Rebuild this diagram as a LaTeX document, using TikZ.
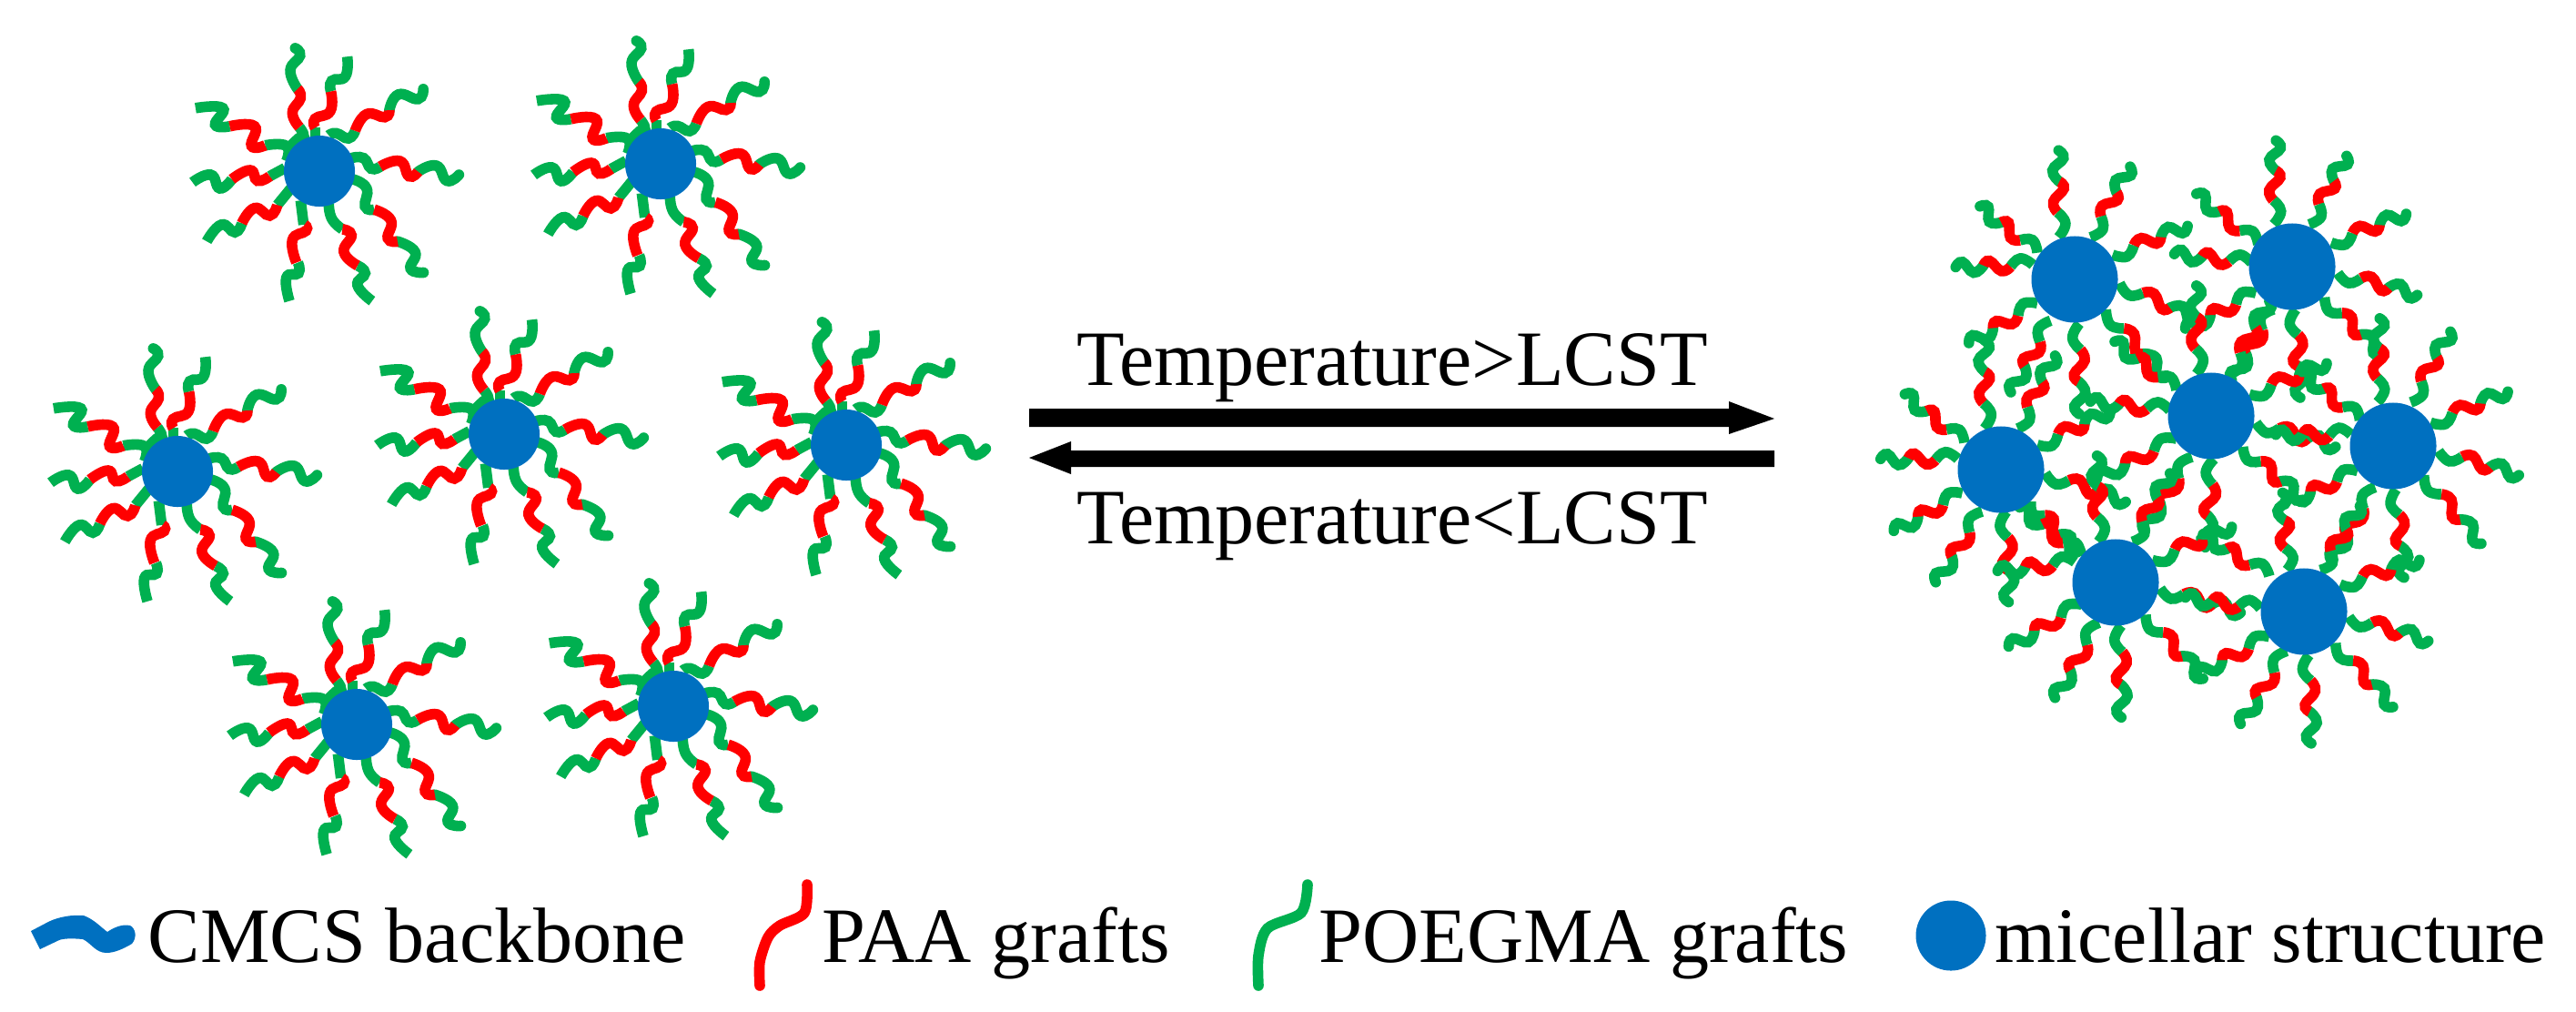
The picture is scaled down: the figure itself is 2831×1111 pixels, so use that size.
\documentclass[tikz,border=0pt]{standalone}
\usepackage{fontspec}
\setmainfont{Liberation Serif}
\usetikzlibrary{calc}
\definecolor{ballblue}{RGB}{0,112,192}
\definecolor{paared}{RGB}{255,0,0}
\definecolor{oegreen}{RGB}{0,176,80}
\tikzset{
  ball/.style={circle,fill=ballblue,inner sep=0pt},
  graftg/.style={draw=oegreen,line width=3.3pt},
  graftr/.style={draw=paared,line width=3.3pt},
  arrowbar/.style={fill=black},
  bigtext/.style={inner sep=0pt,anchor=base,font=\fontsize{24.5}{25}\selectfont},
  legendtext/.style={inner sep=0pt,anchor=base west,font=\fontsize{24.5}{25}\selectfont}
}
% one traced graft of the left micelles: green, red, green
\newcommand{\tikzGraft}[4][butt]{
  \draw[graftg] plot[smooth,tension=0.85] coordinates{#2};
  \draw[graftg,line cap=#1] plot[smooth,tension=0.85] coordinates{#4};
  \draw[graftr] plot[smooth,tension=0.85] coordinates{#3};
}
% a free micelle, centre in pixels; arm points are relative to a centre at (514,503)
\newcommand{\tikzFreeMicelle}[2]{
  \begin{scope}[shift={(#2)},x=0.00333cm,y=-0.00333cm,shift={(-514,-503)}]
  \tikzGraft[round]{(415,425)(445,395)(462,385)(448,358)}{(448,358)(425,310)(452,262)(442,232)}{(442,232)(418,170)(450,122)(434,97)}
  \tikzGraft{(500,395)(500,360)}{(500,360)(500,330)(550,305)(552,240)}{(552,240)(555,205)(600,190)(606,125)}
  \tikzGraft[round]{(545,385)(570,378)(610,395)(632,370)}{(632,370)(670,315)(730,325)(745,302)}{(745,302)(775,250)(840,265)(857,232)}
  \tikzGraft[round]{(620,460)(660,460)(685,495)(715,488)}{(715,488)(780,470)(810,520)(840,505)}{(840,505)(900,485)(935,535)(975,515)}
  \tikzGraft[round]{(625,530)(670,560)(665,620)(695,630)}{(695,630)(750,665)(740,725)(772,735)}{(772,735)(830,770)(815,825)(858,838)}
  \tikzGraft{(545,610)(555,660)(590,695)}{(590,695)(620,715)(595,770)(640,815)}{(640,815)(665,840)(640,880)(688,932)}
  \tikzGraft{(452,600)(462,680)}{(465,680)(470,700)(425,730)(438,805)}{(443,805)(445,840)(405,855)(415,932)}
  \tikzGraft{(420,560)(375,615)}{(375,615)(350,650)(300,625)(258,675)}{(258,675)(235,705)(190,680)(142,735)}
  \tikzGraft{(400,493)(350,520)}{(350,520)(310,535)(285,500)(225,530)}{(225,530)(185,560)(155,515)(95,540)}
  \tikzGraft{(405,470)(405,420)(335,418)}{(335,418)(290,420)(300,355)(218,355)}{(218,355)(170,350)(195,295)(105,295)}
  \end{scope}
  \node[ball,minimum size=0.78cm] (#1) at (#2) {};
}
% a wavy graft of the aggregate from root to tip, in the units of its scope
\newcommand{\tikzWave}[4]{
  \pgfmathsetmacro{\waveang}{atan2(#2-#4,#3-#1)}
  \pgfmathsetmacro{\wavelen}{veclen(#3-#1,#4-#2)/100}
  \begin{scope}[shift={(#1,#2)},rotate=\waveang,xscale=\wavelen]
  \draw[graftg] plot[smooth,tension=0.8] coordinates{(0,0)(16,17)(29,-3)};
  \draw[graftg,line cap=round] plot[smooth,tension=0.8] coordinates{(64,2)(77,-15)(91,12)(100,0)};
  \draw[graftr] plot[smooth,tension=0.8] coordinates{(29,-3)(41,-13)(56,13)(64,2)};
  \end{scope}
}
\begin{document}
\begin{tikzpicture}[x=0.01cm,y=-0.01cm]
  \useasboundingbox (0,0) rectangle (2831,1111);

  \tikzFreeMicelle{fa}{351,188}
  \tikzFreeMicelle{fb}{726,180}
  \tikzFreeMicelle{fc}{195,518}
  \tikzFreeMicelle{fd}{554,477}
  \tikzFreeMicelle{fe}{930,489}
  \tikzFreeMicelle{ff}{392,796}
  \tikzFreeMicelle{fg}{740,776}

  % arrows
  \node[bigtext] (up) at (1530,423) {Temperature>LCST};
  \node[bigtext] (down) at (1530,597) {Temperature<LCST};
  \fill[arrowbar] (1131,449) -- (1900,449) -- (1900,441) -- (1950,460) -- (1900,477) -- (1900,469) -- (1131,469) -- cycle;
  \fill[arrowbar] (1950,495) -- (1177,495) -- (1177,485) -- (1131,503) -- (1177,521) -- (1177,513) -- (1950,513) -- cycle;

  % aggregate, read off in its own units
  \begin{scope}[shift={(2040,140)},x=0.004847cm,y=-0.004444cm]
  \foreach \xa/\ya/\xb/\yb in {
    458/272/458/75, 530/272/620/112, 580/315/750/250, 596/385/775/470, 565/450/700/605,
    505/485/505/690, 440/478/350/640, 410/435/255/525, 400/340/225/345, 410/310/280/205,
    945/240/950/50, 1025/240/1110/85, 1075/285/1245/220, 1090/360/1270/410, 1060/420/1190/550,
    995/450/1005/650, 945/450/850/610, 905/410/745/490, 895/335/720/315, 910/290/770/175,
    770/610/770/410, 845/610/935/445, 890/660/1065/590, 905/730/1085/785, 875/790/1010/910,
    810/820/790/1020, 760/815/650/980, 725/770/545/860, 710/700/530/680, 725/650/585/540,
    290/745/290/545, 365/745/450/580, 410/785/575/710, 428/855/610/920, 395/925/500/1040,
    340/950/345/1155, 285/950/180/1110, 240/905/85/990, 230/820/55/820, 245/780/110/670,
    1180/680/1185/490, 1255/680/1345/520, 1300/730/1475/660, 1318/800/1500/855, 1285/860/1415/1015,
    1222/895/1240/1095, 1175/890/1075/1055, 1135/850/970/925, 1120/760/950/760, 1140/725/1010/615,
    548/1025/545/830, 625/1025/710/870, 670/1070/850/995, 688/1140/870/1195, 655/1205/785/1350,
    600/1232/600/1440, 550/1225/450/1395, 510/1180/345/1275, 495/1075/320/1095, 510/1060/370/950,
    975/1095/965/920, 1050/1095/1140/950, 1095/1130/1275/1075, 1115/1210/1295/1265, 1085/1275/1215/1420,
    1025/1305/1030/1505, 975/1295/870/1460, 935/1260/770/1345, 915/1190/745/1165, 935/1110/785/1015}
  {\tikzWave{\xa}{\ya}{\xb}{\yb}}
  \end{scope}
  \node[ball,minimum size=0.95cm] (ma) at (2280,307) {};
  \node[ball,minimum size=0.95cm] (mb) at (2519,293) {};
  \node[ball,minimum size=0.95cm] (mc) at (2430,457) {};
  \node[ball,minimum size=0.95cm] (md) at (2199,516) {};
  \node[ball,minimum size=0.95cm] (me) at (2630,490) {};
  \node[ball,minimum size=0.95cm] (mf) at (2325,640) {};
  \node[ball,minimum size=0.95cm] (mg) at (2532,672) {};

  % legend
  \fill[ballblue] (34,1023) -- (53,1013) .. controls (65,1007) and (80,1005) .. (92,1006) .. controls (103,1010) and (110,1018) .. (118,1024) .. controls (125,1019) and (135,1015) .. (143,1017) .. controls (149,1020) and (151,1030) .. (145,1037) .. controls (135,1043) and (125,1047) .. (117,1047) .. controls (105,1047) and (100,1036) .. (91,1032) .. controls (80,1031) and (70,1031) .. (65,1033) -- (44,1043) -- cycle;
  \node[legendtext] (lblcmcs) at (162,1057) {CMCS backbone};
  \draw[graftr,line cap=round] plot[smooth] coordinates{(835,1083)(835,1057)(844,1030)(857,1017)(884,1003)(887,972)};
  \node[legendtext] (lblpaa) at (903,1057) {PAA grafts};
  \draw[graftg,line cap=round] plot[smooth] coordinates{(1383,1083)(1383,1050)(1393,1020)(1430,1003)(1437,972)};
  \node[legendtext] (lblpeg) at (1449,1057) {POEGMA grafts};
  \node[ball,minimum size=0.77cm] (lgball) at (2144,1028) {};
  \node[legendtext] (lblmic) at (2192,1057) {micellar structure};
\end{tikzpicture}
\end{document}
